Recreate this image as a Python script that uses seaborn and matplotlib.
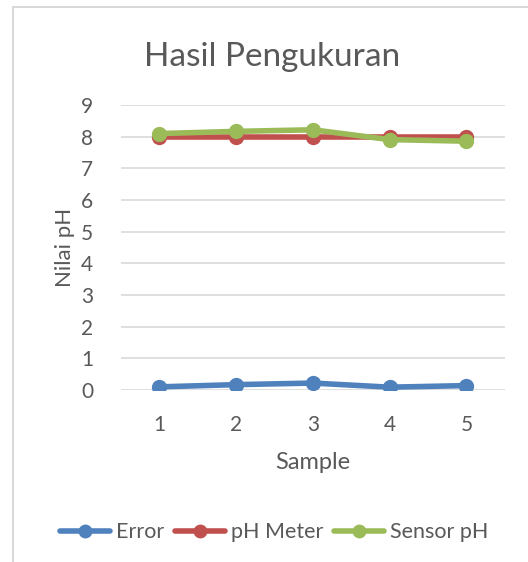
import matplotlib
matplotlib.use('Agg')
import matplotlib.pyplot as plt
import pandas as pd
import seaborn as sns
from matplotlib.patches import Rectangle

# Data
samples = [1, 2, 3, 4, 5]
error = [0.10, 0.17, 0.22, 0.09, 0.14]
ph_meter = [8.00, 8.00, 8.00, 8.00, 8.00]
sensor_ph = [8.10, 8.17, 8.22, 7.91, 7.86]

series_names = ['Error', 'pH Meter', 'Sensor pH']
colors = ['#4F81BD', '#C0504D', '#9BBB59']

df = pd.DataFrame({'Sample': samples, 'Error': error,
                   'pH Meter': ph_meter, 'Sensor pH': sensor_ph})
df_long = df.melt(id_vars='Sample', var_name='series', value_name='value')

sns.set_style('white')
plt.rcParams['font.family'] = ['Lato', 'DejaVu Sans']
text_color = '#595959'

fig = plt.figure(figsize=(5.28, 5.62), dpi=100)
ax = fig.add_axes([0.229, 0.306, 0.727, 0.507])

sns.lineplot(data=df_long, x='Sample', y='value', hue='series',
             hue_order=series_names, palette=colors, marker='o',
             markersize=11, markeredgewidth=0, linewidth=4, ax=ax,
             legend=False)

ax.set_xlim(0.5, 5.5)
ax.set_ylim(0, 9)
ax.set_xticks(samples)
ax.set_yticks(range(0, 10))
ax.yaxis.grid(True, color='#D9D9D9', linewidth=1.2)
ax.set_axisbelow(True)
for s in ax.spines.values():
    s.set_visible(False)
ax.tick_params(axis='both', length=0, labelsize=15, labelcolor=text_color)
ax.tick_params(axis='y', pad=20)
ax.tick_params(axis='x', pad=18)

ax.set_xlabel('Sample', fontsize=17, color=text_color, labelpad=12)
ax.set_ylabel('Nilai pH', fontsize=16, color=text_color, labelpad=4)
fig.text(0.515, 0.898, 'Hasil Pengukuran', fontsize=24, color=text_color,
         ha='center', va='center')

# legend built from the same series
handles = [plt.Line2D([], [], color=c, linewidth=4, marker='o',
                      markersize=10, markeredgewidth=0) for c in colors]
fig.legend(handles, series_names, loc='center', bbox_to_anchor=(0.52, 0.053),
           ncol=3, frameon=False, fontsize=15.5, handlelength=2.3,
           columnspacing=0.5, handletextpad=0.3, labelcolor=text_color)

# chart area border (only top and left edges are visible in the crop)
fig.patches.append(Rectangle((13 / 528, -0.1), 1.2, 1 - 7 / 562 + 0.1,
                             transform=fig.transFigure, fill=False,
                             edgecolor='#D9D9D9', linewidth=1.5))

fig.savefig('out.png', dpi=100)
